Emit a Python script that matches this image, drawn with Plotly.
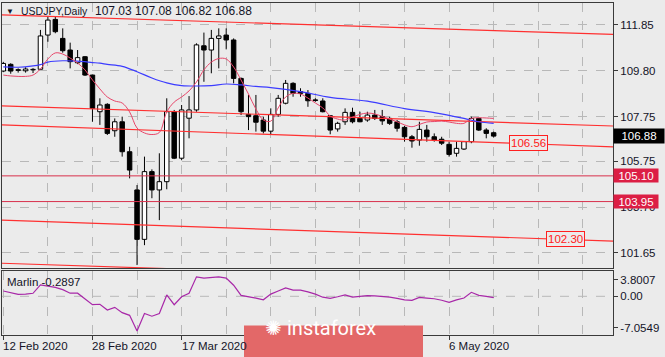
import plotly.graph_objects as go

# ---------------- data ----------------
bars = list(range(67))  # trading-day index, 0 = 12 Feb 2020
opens = [109.79, 110.09, 109.85, 109.80, 109.84, 109.87, 111.40, 112.10, 111.25, 110.73,
         110.16, 110.43, 109.61, 107.97, 108.30, 107.12, 107.52, 106.18, 104.47, 102.26,
         105.29, 104.47, 104.84, 107.97, 105.89, 107.68, 108.05, 110.92, 110.73, 111.25,
         111.40, 111.18, 109.46, 107.85, 107.79, 107.60, 107.10, 107.85, 108.35, 109.24,
         108.87, 108.79, 108.50, 108.45, 107.79, 107.20, 107.52, 107.94, 107.67, 107.60,
         107.82, 107.75, 107.67, 107.52, 107.27, 106.85, 106.70, 107.15, 106.85, 106.74,
         106.51, 106.11, 106.30, 106.63, 107.67, 107.15, 107.03]
highs = [110.20, 110.14, 109.91, 109.96, 109.92, 111.63, 112.22, 112.22, 111.70, 111.06,
         110.73, 110.46, 109.63, 108.57, 108.35, 107.67, 107.75, 106.40, 104.69, 105.96,
         105.39, 106.11, 108.57, 108.05, 108.27, 108.67, 111.03, 111.51, 111.63, 111.70,
         111.70, 111.25, 109.50, 108.72, 108.72, 107.75, 108.12, 108.72, 109.39, 109.29,
         109.02, 108.94, 108.57, 108.57, 107.82, 107.52, 108.12, 108.15, 107.97, 107.97,
         108.05, 108.05, 107.75, 107.60, 107.34, 106.93, 107.52, 107.38, 107.00, 106.85,
         106.63, 106.63, 106.66, 107.75, 107.70, 107.23, 107.08]
lows = [109.74, 109.67, 109.72, 109.72, 109.70, 109.84, 111.10, 111.48, 110.61, 109.91,
        110.10, 109.57, 107.52, 107.38, 106.93, 106.85, 105.96, 104.99, 101.11, 102.00,
        104.10, 103.12, 104.50, 105.85, 105.80, 106.78, 107.97, 109.31, 109.69, 109.91,
        110.76, 109.24, 107.82, 107.15, 107.08, 107.00, 106.93, 107.75, 108.30, 108.64,
        108.64, 108.19, 108.42, 107.94, 106.96, 107.08, 107.38, 107.45, 107.50, 107.52,
        107.60, 107.38, 107.38, 107.08, 106.63, 106.36, 106.45, 106.63, 106.63, 106.48,
        105.96, 105.96, 106.26, 106.56, 107.11, 106.78, 106.82]
closes = [110.13, 109.79, 109.82, 109.88, 109.86, 111.36, 112.07, 111.55, 110.70, 110.21,
          110.39, 109.61, 108.12, 108.27, 107.00, 107.52, 106.18, 105.36, 102.26, 105.29,
          104.47, 104.84, 107.97, 105.89, 108.05, 108.05, 110.96, 110.73, 111.25, 111.36,
          111.18, 109.46, 107.97, 107.75, 107.50, 107.10, 107.85, 108.57, 109.24, 108.79,
          108.79, 108.46, 108.47, 107.97, 107.15, 107.45, 107.94, 107.52, 107.52, 107.82,
          107.67, 107.56, 107.45, 107.23, 106.85, 106.66, 107.18, 106.85, 106.70, 106.56,
          106.06, 106.33, 106.63, 107.67, 107.15, 107.00, 106.88]

red_ma = [109.61, 109.57, 109.55, 109.55, 109.61, 109.88, 110.33, 110.60, 110.55, 110.37,
          110.15, 109.84, 109.39, 108.99, 108.63, 108.45, 108.36, 107.96, 107.24, 107.02,
          106.95, 107.04, 107.96, 108.40, 108.63, 108.90, 109.30, 109.84, 110.19, 110.35,
          110.33, 109.97, 109.39, 108.76, 108.09, 107.60, 107.55, 108.14, 108.63, 108.79,
          108.76, 108.58, 108.36, 108.14, 107.78, 107.64, 107.60, 107.73, 107.85, 107.91,
          107.87, 107.76, 107.64, 107.52, 107.38, 107.30, 107.40, 107.51, 107.53, 107.55,
          107.51, 107.45, 107.45, 107.67, 107.70, 107.69, 107.67]

blue_ma_bars = [0, 2, 4, 5, 6, 8, 10, 12, 13, 14, 16, 18, 20, 22, 24, 26, 28, 30, 32, 34,
                36, 40, 44, 49, 54, 58, 62, 64, 66]
blue_ma = [109.98, 109.96, 110.02, 110.08, 110.19, 110.25, 110.23, 110.17, 110.14, 110.09,
           110.00, 109.76, 109.48, 109.26, 109.14, 109.12, 109.14, 109.21, 109.17, 109.10,
           109.05, 108.87, 108.61, 108.44, 108.11, 107.93, 107.67, 107.52, 107.45]

marlin = [1.2, 0.8, 0.45, 0.5, 0.68, 2.6, 2.3, 2.0, 1.5, 0.7,
          0.7, -0.5, -1.9, -1.8, -3.1, -2.5, -3.7, -4.3, -7.85, -3.9,
          -4.5, -3.9, 0.3, -1.9, -0.1, 0.7, 4.4, 4.1, 4.3, 4.4,
          4.1, 2.5, 0.2, -0.05, -0.4, -0.8, 0.5, 1.2, 1.9, 1.4,
          1.4, 1.0, 0.5, -0.2, -0.45, -0.1, 0.3, -0.2, 0.0, 0.13,
          0.1, 0.0, -0.2, -0.45, -0.8, -0.9, -0.25, -0.4, -0.55, -0.9,
          -1.35, -0.8, -0.4, 0.9, 0.2, 0.0, -0.29]

# trend lines: price at bar -1 and bar 83
trend_bars = [-1, 83]
trend_lines = [
    [112.31, 111.42],
    [108.24, 107.32],
    [107.39, 106.39],
    [103.13, 102.17],
    [101.20, 100.29],
]
hlines = [105.10, 103.95]

price_ticks = [111.85, 109.80, 107.75, 105.75, 103.70, 101.65]
price_ticktext = ["111.85", "109.80", "107.75", "105.75", "103.70", "101.65"]
osc_ticks = [3.8007, 0.0, -7.0549]
osc_ticktext = ["3.8007", "0.00", "-7.0549"]

date_bars = [0, 12, 24, 36, 48, 60]
# labels visible in the picture (the ones at bars 36 and 48 are hidden by the banner)
label_bars = [0, 12, 24, 60]
label_texts = ["12 Feb 2020", "28 Feb 2020", "17 Mar 2020", "6 May 2020"]

last_price = 106.88
title_ohlc = "107.03 107.08 106.82 106.88"
marlin_last = "-0.2897"

# ---------------- figure ----------------
W, H = 665, 357
ML, MR, MT, MB = 2, 52, 3, 22
PW = W - ML - MR
PH = H - MT - MB


def px_x(px):
    return (px - ML) / PW


def px_y(py):
    return (H - MB - py) / PH


BG = "#ebebeb"
GRID = "#b8b8b8"
FRAME = "#3a3a3a"
TXT = "#141428"
FONT = "Liberation Sans"

fig = go.Figure()

# wicks (split so they don't cross white bodies)
wx, wy = [], []
for k, o, h, l, c in zip(bars, opens, highs, lows, closes):
    top, bot = max(o, c), min(o, c)
    wx += [k, k, None, k, k, None]
    wy += [top, h, None, l, bot, None]
fig.add_trace(go.Scatter(x=wx, y=wy, mode="lines", line=dict(color="black", width=1),
                         hoverinfo="skip", xaxis="x", yaxis="y"))

# bodies
base = [min(o, c) for o, c in zip(opens, closes)]
hgt = [max(abs(c - o), 0.025) for o, c in zip(opens, closes)]
cols = ["white" if c >= o else "black" for o, c in zip(opens, closes)]
fig.add_trace(go.Bar(x=bars, y=hgt, base=base, width=0.6,
                     marker=dict(color=cols, line=dict(color="black", width=1)),
                     hoverinfo="skip", xaxis="x", yaxis="y"))

# horizontal levels
for lv in hlines:
    fig.add_trace(go.Scatter(x=trend_bars, y=[lv, lv], mode="lines",
                             line=dict(color="#d8304c", width=1), hoverinfo="skip"))

# trend lines
for tl in trend_lines:
    fig.add_trace(go.Scatter(x=trend_bars, y=tl, mode="lines",
                             line=dict(color="#ff3030", width=1.2), hoverinfo="skip"))

# moving averages
fig.add_trace(go.Scatter(x=blue_ma_bars, y=blue_ma, mode="lines", line_shape="spline",
                         line=dict(color="#3c3cff", width=1.2), hoverinfo="skip"))
fig.add_trace(go.Scatter(x=bars, y=red_ma, mode="lines", line_shape="spline",
                         line=dict(color="#e8466a", width=1), hoverinfo="skip"))

# oscillator
fig.add_trace(go.Scatter(x=bars, y=marlin, mode="lines",
                         line=dict(color="#a828a8", width=1.2), hoverinfo="skip",
                         xaxis="x2", yaxis="y2"))

xr = [-0.175, 82.06]
main_grid = list(range(6, 84, 6))

fig.update_layout(
    width=W, height=H,
    margin=dict(l=ML, r=MR, t=MT, b=MB),
    paper_bgcolor=BG, plot_bgcolor=BG,
    showlegend=False, bargap=0, hovermode=False,
    font=dict(family=FONT, size=11, color=TXT),
    xaxis=dict(domain=[0, 1], range=xr, anchor="y", showticklabels=False,
               tickvals=main_grid, ticks="", showgrid=True, gridcolor=GRID,
               griddash="dash", gridwidth=1, zeroline=False,
               showline=True, mirror=True, linecolor=FRAME, linewidth=1),
    yaxis=dict(domain=[px_y(268), 1], range=[100.978, 112.834], side="right",
               tickvals=price_ticks, ticktext=price_ticktext, ticks="outside",
               ticklen=4, tickcolor=FRAME, showgrid=True, gridcolor=GRID,
               griddash="dash", zeroline=False, showline=True, mirror=True,
               linecolor=FRAME, linewidth=1, tickfont=dict(size=11.5, color=TXT)),
    xaxis2=dict(domain=[0, 1], range=xr, anchor="y2", showticklabels=False,
                tickvals=date_bars, ticks="outside", ticklen=4, tickcolor=FRAME,
                showgrid=True, gridcolor=GRID, griddash="dash", zeroline=False,
                showline=True, mirror=True, linecolor=FRAME, linewidth=1,
                minor=dict(tickvals=[6, 18, 30, 42, 54, 66, 72, 78], ticks="",
                           showgrid=True, gridcolor=GRID, griddash="dash")),
    yaxis2=dict(domain=[0, px_y(271)], range=[-8.75, 5.72], side="right",
                tickvals=osc_ticks, ticktext=osc_ticktext, ticks="outside",
                ticklen=4, tickcolor=FRAME, showgrid=False, zeroline=False,
                showline=True, mirror=True, linecolor=FRAME, linewidth=1,
                tickfont=dict(size=11.5, color=TXT)),
)

shapes = [
    dict(type="line", xref="x2 domain", x0=0, x1=1, yref="y2", y0=0, y1=0,
         line=dict(color=GRID, width=1, dash="dash"), layer="below"),
    dict(type="rect", xref="paper", yref="paper", x0=px_x(244), x1=px_x(423),
         y0=px_y(357.5), y1=px_y(325.5), fillcolor="#e36868", line=dict(width=0),
         layer="above"),
]
fig.update_layout(shapes=shapes)

ann = []
# title
ann.append(dict(xref="paper", yref="paper", x=px_x(4), y=px_y(11.5), xanchor="left",
                yanchor="middle", text="▼", showarrow=False, font=dict(size=8, color=TXT)))
ann.append(dict(xref="paper", yref="paper", x=px_x(19), y=px_y(11.5), xanchor="left",
                yanchor="middle", text="USDJPY,Daily", showarrow=False,
                font=dict(size=10.5, color=TXT)))
ann.append(dict(xref="paper", yref="paper", x=px_x(93), y=px_y(11.5), xanchor="left",
                yanchor="middle", text=title_ohlc, showarrow=False,
                font=dict(size=12, color=TXT)))
# oscillator label
ann.append(dict(xref="paper", yref="paper", x=px_x(5), y=px_y(282), xanchor="left",
                yanchor="middle", text="Marlin " + marlin_last, showarrow=False,
                font=dict(size=11.5, color=TXT)))
# date labels
for k, t in zip(label_bars, label_texts):
    ann.append(dict(xref="x2", yref="paper", x=k, y=px_y(345.5), xanchor="left",
                    yanchor="middle", xshift=-2, text=t, showarrow=False,
                    font=dict(size=11.5, color=TXT)))
# axis price boxes
ann.append(dict(xref="paper", yref="y", x=1, y=last_price, xanchor="left", yanchor="middle",
                text=str(last_price), showarrow=False, bgcolor="#000000", width=48, height=12,
                borderpad=1, font=dict(size=11.5, color="white")))
for lv in hlines:
    ann.append(dict(xref="paper", yref="y", x=1, y=lv, xanchor="left", yanchor="middle",
                    text="%.2f" % lv, showarrow=False, bgcolor="#dc1e44", width=42,
                    height=11, borderpad=1, font=dict(size=11.5, color="white")))
# line labels
ann.append(dict(xref="x", yref="y", x=70.75, y=106.56, text="106.56", showarrow=False,
                bordercolor="#ff2020", borderwidth=1, borderpad=1, bgcolor=BG,
                font=dict(size=11.5, color="#ff2020")))
ann.append(dict(xref="x", yref="y", x=75.7, y=102.27, text="102.30", showarrow=False,
                bordercolor="#ff2020", borderwidth=1, borderpad=1, bgcolor=BG,
                font=dict(size=11.5, color="#ff2020")))
# watermark banner text
ann.append(dict(xref="paper", yref="paper", x=px_x(273), y=px_y(341), text="✺",
                showarrow=False, font=dict(size=20, color="white")))
ann.append(dict(xref="paper", yref="paper", x=px_x(331), y=px_y(342), text="instaforex",
                showarrow=False, font=dict(family="Roboto", size=20, color="white")))
fig.update_layout(annotations=ann)

fig.write_html("out.html", config={"displayModeBar": False, "staticPlot": True},
               post_script="document.body.style.margin='0';document.body.style.overflow='hidden';")
